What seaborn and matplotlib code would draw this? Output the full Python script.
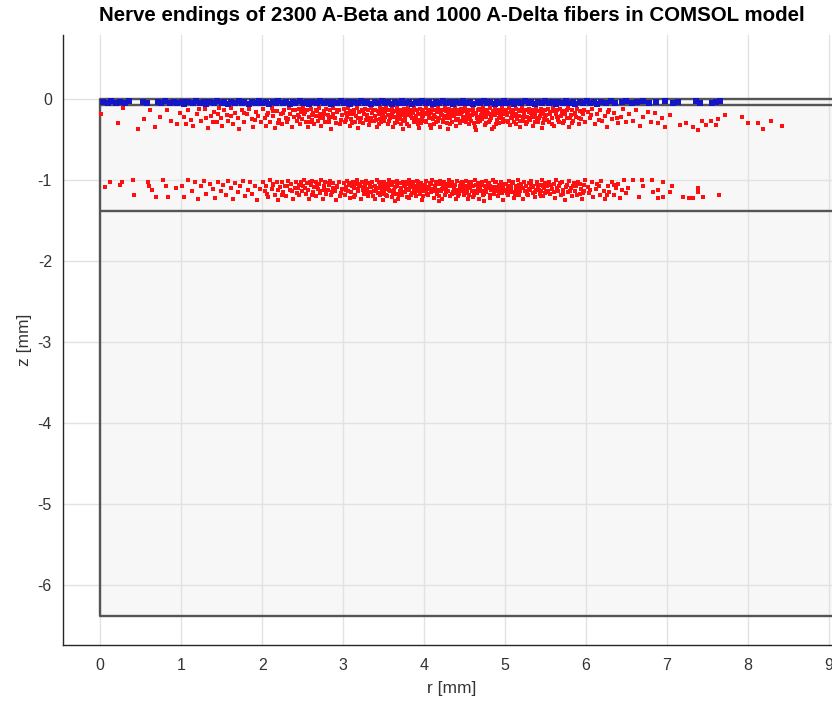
import matplotlib
matplotlib.use("Agg")
import matplotlib.pyplot as plt
import pandas as pd
import seaborn as sns

sns.set_theme(style="white")
plt.rcParams["font.family"] = ["Liberation Sans", "DejaVu Sans"]

title = "Nerve endings of 2300 A-Beta and 1000 A-Delta fibers in COMSOL model"
x_label = "r [mm]"
y_label = "z [mm]"
x_ticks = [0, 1, 2, 3, 4, 5, 6, 7, 8, 9]
y_ticks = [-6, -5, -4, -3, -2, -1, 0]

# skin model geometry (mm): surface, epidermis/dermis, dermis/hypodermis, bottom
layer_width = 10.0
layer_depths = [0.0, -0.08, -1.38, -6.38]

# A-Beta endings, upper dermal band (r, z)
beta_upper = [
    (0.01, -0.19), (0.22, -0.30), (0.28, -0.11), (0.47, -0.37), (0.54, -0.25), (0.61, -0.14),
    (0.68, -0.35), (0.74, -0.22), (0.83, -0.13), (0.88, -0.27), (0.95, -0.31), (0.98, -0.17),
    (1.03, -0.22), (1.06, -0.31), (1.08, -0.14), (1.12, -0.26), (1.15, -0.33), (1.19, -0.19),
    (1.22, -0.12), (1.24, -0.27), (1.29, -0.12), (1.31, -0.23), (1.33, -0.36), (1.37, -0.21),
    (1.39, -0.29), (1.41, -0.16), (1.44, -0.29), (1.46, -0.19), (1.47, -0.11), (1.49, -0.24),
    (1.51, -0.33), (1.53, -0.14), (1.56, -0.20), (1.58, -0.27), (1.61, -0.11), (1.64, -0.31),
    (1.67, -0.17), (1.70, -0.23), (1.72, -0.37), (1.75, -0.13), (1.78, -0.28), (1.81, -0.19),
    (1.84, -0.12), (1.87, -0.25), (1.89, -0.34), (1.92, -0.16), (1.95, -0.21), (1.98, -0.29),
    (2.01, -0.12), (2.03, -0.24), (2.05, -0.33), (2.07, -0.17), (2.10, -0.28), (2.12, -0.11),
    (2.14, -0.21), (2.16, -0.36), (2.18, -0.15), (2.21, -0.26), (2.23, -0.19), (2.25, -0.31),
    (2.27, -0.13), (2.29, -0.23), (2.31, -0.29), (2.33, -0.11), (2.35, -0.18), (2.37, -0.34),
    (2.39, -0.22), (2.41, -0.14), (2.43, -0.27), (2.44, -0.20), (2.46, -0.12), (2.47, -0.31),
    (2.48, -0.16), (2.49, -0.25),
    (2.51, -0.11), (2.52, -0.19), (2.54, -0.28), (2.55, -0.14), (2.57, -0.35), (2.58, -0.22),
    (2.60, -0.12), (2.61, -0.26), (2.63, -0.17), (2.64, -0.31), (2.66, -0.13), (2.67, -0.21),
    (2.69, -0.27), (2.70, -0.11), (2.72, -0.18), (2.73, -0.33), (2.75, -0.24), (2.76, -0.15),
    (2.78, -0.29), (2.79, -0.12), (2.81, -0.20), (2.82, -0.25), (2.84, -0.14), (2.85, -0.37),
    (2.87, -0.18), (2.88, -0.11), (2.90, -0.23), (2.91, -0.30), (2.93, -0.16), (2.95, -0.13),
    (2.97, -0.26), (2.99, -0.20),
    (3.01, -0.12), (3.02, -0.29), (3.03, -0.17), (3.05, -0.22), (3.06, -0.11), (3.08, -0.33),
    (3.09, -0.15), (3.10, -0.25), (3.12, -0.19), (3.13, -0.13), (3.15, -0.28), (3.16, -0.21),
    (3.17, -0.11), (3.19, -0.36), (3.20, -0.16), (3.22, -0.24), (3.23, -0.13), (3.24, -0.30),
    (3.26, -0.18), (3.27, -0.12), (3.28, -0.26), (3.30, -0.20), (3.31, -0.14), (3.32, -0.32),
    (3.34, -0.11), (3.35, -0.23), (3.36, -0.17), (3.38, -0.27), (3.39, -0.13), (3.40, -0.21),
    (3.42, -0.34), (3.43, -0.15), (3.44, -0.19), (3.45, -0.11), (3.46, -0.25), (3.47, -0.29),
    (3.48, -0.14), (3.49, -0.18), (3.49, -0.22), (3.50, -0.12),
    (3.51, -0.27), (3.52, -0.16), (3.53, -0.11), (3.55, -0.31), (3.56, -0.20), (3.57, -0.13),
    (3.58, -0.24), (3.60, -0.18), (3.61, -0.12), (3.62, -0.35), (3.63, -0.22), (3.65, -0.15),
    (3.66, -0.28), (3.67, -0.11), (3.68, -0.19), (3.70, -0.25), (3.71, -0.14), (3.72, -0.31),
    (3.73, -0.17), (3.75, -0.12), (3.76, -0.22), (3.77, -0.27), (3.78, -0.15), (3.80, -0.11),
    (3.81, -0.20), (3.82, -0.33), (3.83, -0.13), (3.85, -0.24), (3.86, -0.17), (3.87, -0.29),
    (3.88, -0.11), (3.90, -0.21), (3.91, -0.14), (3.92, -0.26), (3.93, -0.18), (3.95, -0.12),
    (3.96, -0.30), (3.97, -0.16), (3.98, -0.23), (3.99, -0.13), (3.94, -0.36), (3.74, -0.37),
    (4.01, -0.19), (4.02, -0.11), (4.03, -0.27), (4.05, -0.14), (4.06, -0.22), (4.07, -0.32),
    (4.08, -0.17), (4.10, -0.12), (4.11, -0.25), (4.12, -0.20), (4.13, -0.13), (4.15, -0.29),
    (4.16, -0.16), (4.17, -0.11), (4.18, -0.23), (4.20, -0.34), (4.21, -0.18), (4.22, -0.13),
    (4.23, -0.26), (4.25, -0.21), (4.26, -0.11), (4.27, -0.15), (4.28, -0.30), (4.30, -0.19),
    (4.31, -0.12), (4.32, -0.24), (4.33, -0.17), (4.35, -0.28), (4.36, -0.13), (4.37, -0.21),
    (4.38, -0.11), (4.40, -0.33), (4.41, -0.16), (4.42, -0.25), (4.43, -0.14), (4.45, -0.19),
    (4.46, -0.12), (4.47, -0.27), (4.48, -0.22), (4.49, -0.15), (4.29, -0.37), (4.09, -0.36),
    (4.51, -0.11), (4.52, -0.24), (4.53, -0.18), (4.55, -0.31), (4.56, -0.13), (4.57, -0.21),
    (4.58, -0.27), (4.60, -0.15), (4.61, -0.11), (4.62, -0.19), (4.63, -0.35), (4.65, -0.23),
    (4.66, -0.14), (4.67, -0.28), (4.68, -0.12), (4.70, -0.20), (4.71, -0.17), (4.72, -0.25),
    (4.73, -0.11), (4.75, -0.32), (4.76, -0.16), (4.77, -0.22), (4.78, -0.13), (4.80, -0.29),
    (4.81, -0.19), (4.82, -0.11), (4.83, -0.24), (4.85, -0.15), (4.86, -0.34), (4.87, -0.20),
    (4.88, -0.12), (4.90, -0.26), (4.91, -0.17), (4.92, -0.14), (4.93, -0.30), (4.95, -0.21),
    (4.96, -0.11), (4.97, -0.25), (4.98, -0.16), (4.99, -0.19), (4.64, -0.38), (4.84, -0.37),
    (5.01, -0.13), (5.02, -0.27), (5.03, -0.20), (5.05, -0.11), (5.06, -0.32), (5.07, -0.16),
    (5.09, -0.23), (5.10, -0.14), (5.11, -0.29), (5.13, -0.18), (5.14, -0.12), (5.15, -0.25),
    (5.17, -0.21), (5.18, -0.35), (5.19, -0.15), (5.21, -0.11), (5.22, -0.27), (5.23, -0.19),
    (5.25, -0.13), (5.26, -0.31), (5.27, -0.22), (5.29, -0.16), (5.30, -0.12), (5.31, -0.26),
    (5.33, -0.20), (5.34, -0.14), (5.35, -0.33), (5.37, -0.18), (5.38, -0.11), (5.39, -0.24),
    (5.41, -0.28), (5.42, -0.15), (5.43, -0.21), (5.45, -0.12), (5.46, -0.36), (5.47, -0.17),
    (5.48, -0.25), (5.49, -0.13),
    (5.51, -0.20), (5.53, -0.12), (5.54, -0.29), (5.56, -0.16), (5.58, -0.23), (5.59, -0.11),
    (5.61, -0.33), (5.63, -0.19), (5.64, -0.14), (5.66, -0.26), (5.68, -0.12), (5.69, -0.21),
    (5.71, -0.30), (5.73, -0.15), (5.74, -0.18), (5.76, -0.24), (5.78, -0.11), (5.79, -0.35),
    (5.81, -0.20), (5.83, -0.13), (5.84, -0.27), (5.86, -0.17), (5.88, -0.22), (5.89, -0.12),
    (5.91, -0.31), (5.93, -0.15), (5.94, -0.25), (5.96, -0.19), (5.98, -0.13), (5.99, -0.28),
    (6.02, -0.16), (6.05, -0.24), (6.08, -0.12), (6.11, -0.31), (6.14, -0.19), (6.17, -0.14),
    (6.20, -0.27), (6.23, -0.21), (6.26, -0.35), (6.29, -0.13), (6.32, -0.25), (6.35, -0.17),
    (6.39, -0.30), (6.43, -0.22), (6.46, -0.12), (6.49, -0.28),
    (6.53, -0.19), (6.58, -0.27), (6.62, -0.14), (6.67, -0.33), (6.71, -0.22), (6.76, -0.16),
    (6.80, -0.29), (6.85, -0.17), (6.89, -0.30), (6.94, -0.24), (6.98, -0.34), (7.04, -0.20),
    (7.16, -0.32), (7.24, -0.30), (7.32, -0.35), (7.38, -0.38), (7.43, -0.27), (7.48, -0.32),
    (7.54, -0.27), (7.60, -0.32), (7.63, -0.25), (7.72, -0.20), (7.93, -0.22), (8.00, -0.30),
    (8.12, -0.30), (8.19, -0.37), (8.28, -0.27), (8.42, -0.33),
]

# extra endings in the crowded core of the upper band (r, z)
beta_upper_core = [
    (2.53, -0.16), (2.59, -0.29), (2.62, -0.20), (2.68, -0.15), (2.71, -0.24), (2.77, -0.19),
    (2.83, -0.28), (2.86, -0.22), (2.92, -0.13), (2.96, -0.31), (3.04, -0.26), (3.07, -0.19),
    (3.11, -0.30), (3.14, -0.16), (3.18, -0.24), (3.21, -0.28), (3.25, -0.15), (3.29, -0.22),
    (3.33, -0.27), (3.37, -0.14), (3.41, -0.26), (3.44, -0.31), (3.48, -0.20), (3.52, -0.22),
    (3.54, -0.14), (3.57, -0.27), (3.59, -0.21), (3.62, -0.16), (3.64, -0.30), (3.67, -0.23),
    (3.69, -0.13), (3.72, -0.20), (3.74, -0.26), (3.77, -0.18), (3.79, -0.31), (3.82, -0.16),
    (3.84, -0.21), (3.87, -0.14), (3.89, -0.26), (3.92, -0.31), (3.94, -0.19), (3.97, -0.27),
    (3.99, -0.21), (4.02, -0.29), (4.04, -0.17), (4.07, -0.24), (4.09, -0.14), (4.12, -0.31),
    (4.14, -0.22), (4.17, -0.27), (4.19, -0.15), (4.22, -0.20), (4.24, -0.29), (4.27, -0.24),
    (4.29, -0.14), (4.32, -0.31), (4.34, -0.21), (4.37, -0.16), (4.39, -0.26), (4.42, -0.19),
    (4.44, -0.30), (4.47, -0.16), (4.49, -0.24), (4.52, -0.29), (4.54, -0.16), (4.57, -0.25),
    (4.59, -0.20), (4.62, -0.30), (4.64, -0.17), (4.67, -0.22), (4.69, -0.27), (4.72, -0.14),
    (4.74, -0.21), (4.77, -0.30), (4.79, -0.17), (4.82, -0.26), (4.84, -0.20), (4.87, -0.15),
    (4.89, -0.31), (4.92, -0.23), (4.94, -0.18), (4.97, -0.29), (4.99, -0.14), (5.02, -0.17),
    (5.04, -0.29), (5.07, -0.24), (5.09, -0.18), (5.12, -0.21), (5.14, -0.31), (5.17, -0.14),
    (5.19, -0.27), (5.22, -0.22), (5.24, -0.16), (5.27, -0.29), (5.29, -0.24), (5.32, -0.17),
    (5.34, -0.22), (5.37, -0.29), (5.39, -0.15), (5.42, -0.23), (5.44, -0.19), (5.47, -0.30),
    (5.49, -0.21), (5.52, -0.26), (5.55, -0.18), (5.58, -0.31), (5.61, -0.15), (5.64, -0.22),
    (5.67, -0.29), (5.70, -0.17), (5.73, -0.27), (5.77, -0.14), (5.80, -0.24), (5.83, -0.30),
    (5.87, -0.19), (5.91, -0.23), (5.95, -0.16), (2.06, -0.20), (2.13, -0.15), (2.19, -0.30),
    (2.26, -0.17), (2.32, -0.25), (2.38, -0.13), (2.45, -0.22), (1.62, -0.21), (1.77, -0.17),
    (1.91, -0.26), (6.06, -0.20), (6.16, -0.26), (6.27, -0.16), (6.38, -0.23),
]

# A-Beta endings, lower dermal band (r, z)
beta_lower = [
    (0.06, -1.09), (0.12, -1.02), (0.25, -1.06), (0.27, -1.03), (0.41, -1.00), (0.42, -1.19),
    (0.59, -1.02), (0.60, -1.08), (0.64, -1.12), (0.69, -1.21), (0.78, -1.00), (0.81, -1.08),
    (0.84, -1.21), (0.93, -1.10),
    (1.01, -1.08), (1.04, -1.21), (1.09, -1.00), (1.13, -1.14), (1.17, -1.03), (1.21, -1.24),
    (1.24, -1.07), (1.28, -1.01), (1.31, -1.17), (1.35, -1.05), (1.39, -1.11), (1.42, -1.22),
    (1.46, -1.02), (1.49, -1.13),
    (1.52, -1.06), (1.55, -1.19), (1.58, -1.01), (1.61, -1.10), (1.64, -1.24), (1.67, -1.04),
    (1.70, -1.15), (1.73, -1.08), (1.76, -1.01), (1.79, -1.20), (1.82, -1.12), (1.85, -1.03),
    (1.88, -1.17), (1.91, -1.07), (1.94, -1.25), (1.97, -1.11),
    (2.01, -1.02), (2.03, -1.14), (2.05, -1.08), (2.07, -1.21), (2.10, -1.00), (2.12, -1.11),
    (2.14, -1.05), (2.16, -1.18), (2.18, -1.02), (2.20, -1.25), (2.22, -1.09), (2.24, -1.03),
    (2.26, -1.15), (2.28, -1.07), (2.30, -1.20), (2.32, -1.01), (2.34, -1.12), (2.36, -1.05),
    (2.38, -1.23), (2.40, -1.10), (2.42, -1.02), (2.43, -1.16), (2.45, -1.06), (2.46, -1.19),
    (2.48, -1.03), (2.49, -1.13),
    (2.51, -1.08), (2.52, -1.00), (2.54, -1.17), (2.55, -1.04), (2.57, -1.12), (2.58, -1.24),
    (2.60, -1.06), (2.61, -1.01), (2.63, -1.15), (2.64, -1.09), (2.66, -1.02), (2.67, -1.20),
    (2.69, -1.11), (2.70, -1.05), (2.72, -1.14), (2.73, -1.00), (2.75, -1.23), (2.76, -1.08),
    (2.78, -1.03), (2.79, -1.17), (2.81, -1.12), (2.82, -1.06), (2.84, -1.01), (2.85, -1.19),
    (2.87, -1.10), (2.88, -1.04), (2.90, -1.14), (2.91, -1.25), (2.93, -1.07), (2.95, -1.02),
    (2.97, -1.16), (2.99, -1.11),
    (3.01, -1.04), (3.02, -1.18), (3.03, -1.09), (3.05, -1.01), (3.06, -1.13), (3.08, -1.22),
    (3.09, -1.06), (3.10, -1.15), (3.12, -1.02), (3.13, -1.10), (3.15, -1.19), (3.16, -1.05),
    (3.17, -1.00), (3.19, -1.14), (3.20, -1.08), (3.22, -1.24), (3.23, -1.03), (3.24, -1.12),
    (3.26, -1.17), (3.27, -1.06), (3.28, -1.01), (3.30, -1.11), (3.31, -1.20), (3.32, -1.04),
    (3.34, -1.15), (3.35, -1.09), (3.36, -1.02), (3.38, -1.13), (3.39, -1.23), (3.40, -1.07),
    (3.42, -1.00), (3.43, -1.16), (3.44, -1.10), (3.45, -1.05), (3.46, -1.19), (3.47, -1.03),
    (3.48, -1.12), (3.49, -1.08), (3.49, -1.25), (3.50, -1.14),
    (3.51, -1.02), (3.52, -1.11), (3.53, -1.18), (3.55, -1.05), (3.56, -1.09), (3.57, -1.00),
    (3.58, -1.14), (3.60, -1.21), (3.61, -1.06), (3.62, -1.03), (3.63, -1.12), (3.65, -1.17),
    (3.66, -1.08), (3.67, -1.01), (3.68, -1.24), (3.70, -1.13), (3.71, -1.04), (3.72, -1.10),
    (3.73, -1.19), (3.75, -1.07), (3.76, -1.02), (3.77, -1.15), (3.78, -1.11), (3.80, -1.05),
    (3.81, -1.22), (3.82, -1.00), (3.83, -1.09), (3.85, -1.16), (3.86, -1.03), (3.87, -1.13),
    (3.88, -1.07), (3.90, -1.20), (3.91, -1.01), (3.92, -1.11), (3.93, -1.06), (3.95, -1.17),
    (3.96, -1.04), (3.97, -1.25), (3.98, -1.09), (3.99, -1.14), (3.64, -1.26), (3.84, -1.19),
    (4.01, -1.06), (4.02, -1.13), (4.03, -1.01), (4.05, -1.19), (4.06, -1.09), (4.07, -1.04),
    (4.08, -1.15), (4.10, -1.00), (4.11, -1.11), (4.12, -1.22), (4.13, -1.07), (4.15, -1.03),
    (4.16, -1.17), (4.17, -1.12), (4.18, -1.05), (4.20, -1.01), (4.21, -1.14), (4.22, -1.24),
    (4.23, -1.08), (4.25, -1.02), (4.26, -1.18), (4.27, -1.10), (4.28, -1.05), (4.30, -1.13),
    (4.31, -1.00), (4.32, -1.20), (4.33, -1.08), (4.35, -1.03), (4.36, -1.15), (4.37, -1.11),
    (4.38, -1.06), (4.40, -1.23), (4.41, -1.01), (4.42, -1.12), (4.43, -1.17), (4.45, -1.04),
    (4.46, -1.09), (4.47, -1.14), (4.48, -1.02), (4.49, -1.19), (4.19, -1.26), (4.39, -1.16),
    (4.51, -1.07), (4.52, -1.01), (4.53, -1.13), (4.55, -1.18), (4.56, -1.05), (4.57, -1.10),
    (4.58, -1.02), (4.60, -1.21), (4.61, -1.08), (4.62, -1.14), (4.63, -1.00), (4.65, -1.16),
    (4.66, -1.04), (4.67, -1.11), (4.68, -1.24), (4.70, -1.06), (4.71, -1.02), (4.72, -1.13),
    (4.73, -1.19), (4.75, -1.08), (4.76, -1.01), (4.77, -1.15), (4.78, -1.10), (4.80, -1.04),
    (4.81, -1.22), (4.82, -1.07), (4.83, -1.12), (4.85, -1.00), (4.86, -1.17), (4.87, -1.09),
    (4.88, -1.03), (4.90, -1.14), (4.91, -1.20), (4.92, -1.06), (4.93, -1.11), (4.95, -1.02),
    (4.96, -1.16), (4.97, -1.08), (4.98, -1.25), (4.99, -1.13), (4.74, -1.26), (4.54, -1.23),
    (5.01, -1.05), (5.02, -1.12), (5.04, -1.19), (5.05, -1.01), (5.07, -1.09), (5.08, -1.15),
    (5.10, -1.03), (5.11, -1.22), (5.13, -1.07), (5.14, -1.13), (5.16, -1.00), (5.17, -1.18),
    (5.19, -1.10), (5.20, -1.05), (5.22, -1.24), (5.23, -1.02), (5.25, -1.14), (5.26, -1.08),
    (5.28, -1.19), (5.29, -1.04), (5.31, -1.11), (5.32, -1.01), (5.34, -1.16), (5.35, -1.07),
    (5.37, -1.21), (5.38, -1.12), (5.40, -1.03), (5.41, -1.09), (5.43, -1.17), (5.44, -1.06),
    (5.45, -1.13), (5.46, -1.00), (5.47, -1.20), (5.48, -1.10), (5.49, -1.04), (5.50, -1.15),
    (5.52, -1.08), (5.54, -1.02), (5.56, -1.17), (5.58, -1.11), (5.60, -1.05), (5.62, -1.22),
    (5.63, -1.00), (5.65, -1.13), (5.67, -1.08), (5.69, -1.18), (5.70, -1.03), (5.72, -1.12),
    (5.74, -1.25), (5.76, -1.06), (5.78, -1.15), (5.79, -1.01), (5.81, -1.10), (5.83, -1.20),
    (5.85, -1.04), (5.87, -1.14), (5.88, -1.08), (5.90, -1.02), (5.92, -1.17), (5.94, -1.11),
    (5.95, -1.23), (5.97, -1.06), (5.98, -1.13), (5.99, -1.00),
    (6.02, -1.09), (6.04, -1.16), (6.07, -1.03), (6.09, -1.21), (6.12, -1.11), (6.14, -1.05),
    (6.17, -1.18), (6.19, -1.01), (6.22, -1.13), (6.24, -1.24), (6.27, -1.07), (6.29, -1.15),
    (6.32, -1.02), (6.35, -1.19), (6.37, -1.10), (6.40, -1.05), (6.42, -1.22), (6.45, -1.12),
    (6.47, -1.00), (6.49, -1.16),
    (6.52, -1.10), (6.58, -1.00), (6.65, -1.21), (6.69, -1.00), (6.70, -1.08), (6.81, -1.00),
    (6.83, -1.15), (6.89, -1.12), (6.89, -1.22), (6.95, -1.03), (6.95, -1.21), (7.04, -1.15),
    (7.06, -1.08), (7.20, -1.21), (7.27, -1.22), (7.32, -1.22), (7.38, -1.10), (7.38, -1.15),
    (7.44, -1.21), (7.64, -1.19),
]

# extra endings in the crowded core of the lower band (r, z)
beta_lower_core = [
    (2.53, -1.10), (2.59, -1.03), (2.62, -1.19), (2.68, -1.07), (2.71, -1.16), (2.77, -1.12),
    (2.83, -1.04), (2.86, -1.15), (2.92, -1.09), (2.96, -1.20), (3.04, -1.12), (3.07, -1.04),
    (3.11, -1.08), (3.14, -1.21), (3.18, -1.11), (3.21, -1.05), (3.25, -1.09), (3.29, -1.16),
    (3.33, -1.07), (3.37, -1.20), (3.41, -1.11), (3.44, -1.03), (3.48, -1.17), (3.52, -1.07),
    (3.54, -1.20), (3.57, -1.12), (3.59, -1.03), (3.62, -1.16), (3.64, -1.09), (3.67, -1.05),
    (3.69, -1.18), (3.72, -1.14), (3.74, -1.03), (3.77, -1.08), (3.79, -1.21), (3.82, -1.12),
    (3.84, -1.05), (3.87, -1.10), (3.89, -1.16), (3.92, -1.03), (3.94, -1.13), (3.97, -1.07),
    (3.99, -1.20), (4.02, -1.09), (4.04, -1.17), (4.07, -1.11), (4.09, -1.05), (4.12, -1.14),
    (4.14, -1.09), (4.17, -1.02), (4.19, -1.20), (4.22, -1.11), (4.24, -1.05), (4.27, -1.15),
    (4.29, -1.08), (4.32, -1.03), (4.34, -1.17), (4.37, -1.06), (4.39, -1.12), (4.42, -1.20),
    (4.44, -1.08), (4.47, -1.03), (4.49, -1.11), (4.52, -1.16), (4.54, -1.09), (4.57, -1.03),
    (4.59, -1.14), (4.62, -1.19), (4.64, -1.06), (4.67, -1.14), (4.69, -1.09), (4.72, -1.04),
    (4.74, -1.17), (4.77, -1.11), (4.79, -1.06), (4.82, -1.19), (4.84, -1.09), (4.87, -1.13),
    (4.89, -1.03), (4.92, -1.16), (4.94, -1.08), (4.97, -1.12), (4.99, -1.05), (5.02, -1.16),
    (5.04, -1.08), (5.07, -1.13), (5.09, -1.04), (5.12, -1.18), (5.14, -1.09), (5.17, -1.06),
    (5.19, -1.14), (5.22, -1.10), (5.24, -1.03), (5.27, -1.17), (5.29, -1.12), (5.32, -1.06),
    (5.34, -1.09), (5.37, -1.15), (5.39, -1.05), (5.42, -1.12), (5.44, -1.20), (5.47, -1.08),
    (5.49, -1.16), (5.53, -1.13), (5.57, -1.06), (5.61, -1.15), (5.64, -1.10), (5.68, -1.04),
    (5.71, -1.17), (5.75, -1.09), (5.80, -1.14), (5.84, -1.07), (5.89, -1.19), (5.93, -1.05),
    (5.96, -1.16), (2.06, -1.17), (2.13, -1.06), (2.19, -1.12), (2.25, -1.19), (2.31, -1.08),
    (2.37, -1.14), (2.44, -1.10), (6.05, -1.12), (6.16, -1.08), (6.26, -1.18), (6.34, -1.06),
]

# A-Delta endings just below the skin surface (r, z)
delta = [
    (0.04, -0.04), (0.09, -0.05), (0.13, -0.03), (0.19, -0.05), (0.24, -0.04), (0.30, -0.05),
    (0.35, -0.03), (0.53, -0.04), (0.58, -0.05), (0.71, -0.04), (0.75, -0.05), (0.80, -0.03),
    (0.86, -0.05), (0.91, -0.04), (0.95, -0.05), (1.01, -0.04), (1.04, -0.06), (1.09, -0.04),
    (1.15, -0.05), (1.18, -0.03), (1.23, -0.05), (1.28, -0.04), (1.31, -0.06), (1.36, -0.04),
    (1.41, -0.05), (1.44, -0.03), (1.50, -0.05), (1.53, -0.04), (1.58, -0.06), (1.62, -0.04),
    (1.66, -0.05), (1.71, -0.03), (1.75, -0.05), (1.78, -0.04), (1.84, -0.06), (1.87, -0.04),
    (1.92, -0.05), (1.96, -0.03), (2.00, -0.05), (2.05, -0.04), (2.08, -0.06), (2.13, -0.04),
    (2.17, -0.05), (2.20, -0.03), (2.26, -0.05), (2.29, -0.04), (2.34, -0.06), (2.38, -0.04),
    (2.41, -0.05), (2.47, -0.03), (2.50, -0.05), (2.55, -0.04), (2.58, -0.06), (2.63, -0.04),
    (2.68, -0.05), (2.71, -0.03), (2.76, -0.05), (2.80, -0.04), (2.85, -0.06), (2.88, -0.04),
    (2.93, -0.05), (2.97, -0.03), (3.01, -0.05), (3.06, -0.04), (3.09, -0.06), (3.14, -0.04),
    (3.18, -0.05), (3.22, -0.03), (3.27, -0.05), (3.30, -0.04), (3.35, -0.06), (3.40, -0.04),
    (3.43, -0.05), (3.48, -0.03), (3.52, -0.05), (3.56, -0.04), (3.61, -0.06), (3.64, -0.04),
    (3.69, -0.05), (3.73, -0.03), (3.77, -0.05), (3.82, -0.04), (3.85, -0.06), (3.90, -0.04),
    (3.94, -0.05), (3.98, -0.03), (4.03, -0.05), (4.06, -0.04), (4.11, -0.06), (4.15, -0.04),
    (4.19, -0.05), (4.24, -0.03), (4.27, -0.05), (4.32, -0.04), (4.36, -0.06), (4.40, -0.04),
    (4.45, -0.05), (4.48, -0.03), (4.53, -0.05), (4.57, -0.04), (4.61, -0.06), (4.66, -0.04),
    (4.69, -0.05), (4.74, -0.03), (4.78, -0.05), (4.82, -0.04), (4.87, -0.06), (4.90, -0.04),
    (4.95, -0.05), (4.99, -0.03), (5.03, -0.05), (5.08, -0.04), (5.11, -0.06), (5.16, -0.04),
    (5.20, -0.05), (5.25, -0.03), (5.29, -0.05), (5.32, -0.04), (5.37, -0.06), (5.41, -0.04),
    (5.46, -0.05), (5.49, -0.03), (5.54, -0.05), (5.58, -0.04), (5.63, -0.06), (5.66, -0.04),
    (5.71, -0.05), (5.75, -0.03), (5.79, -0.05), (5.84, -0.04), (5.87, -0.06), (5.92, -0.04),
    (5.96, -0.05), (6.01, -0.03), (6.05, -0.05), (6.10, -0.04), (6.14, -0.06), (6.19, -0.04),
    (6.25, -0.05), (6.31, -0.03), (6.36, -0.05), (6.44, -0.04), (6.49, -0.03), (6.57, -0.05),
    (6.63, -0.04), (6.70, -0.03), (6.78, -0.05), (6.86, -0.04), (6.97, -0.03), (7.08, -0.05),
    (7.14, -0.04), (7.36, -0.03), (7.41, -0.05), (7.56, -0.05), (7.61, -0.04), (7.66, -0.03),
]

beta_df = pd.DataFrame(beta_upper + beta_upper_core + beta_lower + beta_lower_core,
                       columns=["r", "z"])
delta_df = pd.DataFrame(delta, columns=["r", "z"])

W, H = 832, 706
fig = plt.figure(figsize=(W / 100, H / 100), dpi=100)
fig.patch.set_facecolor("white")
ax = fig.add_axes([63 / W, 61 / H, 778 / W, 610 / H])
ax.set_facecolor("white")

# tissue block: light fill with dark outlines at each layer boundary
bottom = layer_depths[-1]
ax.fill_between([0, layer_width], bottom, 0, color="#f7f7f7", lw=0, zorder=1)
for d in layer_depths:
    ax.plot([0, layer_width], [d, d], color="#555555", lw=1.7, zorder=2,
            solid_capstyle="butt")
ax.plot([0, 0], [0, bottom], color="#555555", lw=1.7, zorder=2)

sns.scatterplot(data=beta_df, x="r", y="z", color="#ff1010", marker="s", s=8,
                linewidth=0, ax=ax, zorder=3, legend=False)
sns.scatterplot(data=delta_df, x="r", y="z", color="#1414c8", marker="s", s=14,
                linewidth=0, ax=ax, zorder=4, legend=False)

ax.set_xlim(-0.46, 9.15)
ax.set_ylim(-6.74, 0.79)
ax.set_xticks(x_ticks)
ax.set_yticks(y_ticks)
ax.set_xticklabels([str(t) for t in x_ticks])
ax.set_yticklabels([str(t) for t in y_ticks])

ax.grid(True, color="#e2e2e2", lw=1.0)
ax.set_axisbelow("line")
for side in ("top", "right"):
    ax.spines[side].set_visible(False)
for side in ("left", "bottom"):
    ax.spines[side].set_color("#262626")
    ax.spines[side].set_linewidth(1.0)

ax.tick_params(direction="in", length=5, width=1, color="#262626",
               labelsize=11.5, labelcolor="#333333")
ax.tick_params(axis="x", pad=9)
ax.tick_params(axis="y", pad=8)

ax.set_xlabel(x_label, fontsize=12.5, color="#333333", labelpad=6)
ax.set_ylabel(y_label, fontsize=12.5, color="#333333", labelpad=4)
ax.set_title(title, fontsize=14.8, fontweight="bold", color="black", pad=10)

fig.savefig("out.png", dpi=100, facecolor="white")
